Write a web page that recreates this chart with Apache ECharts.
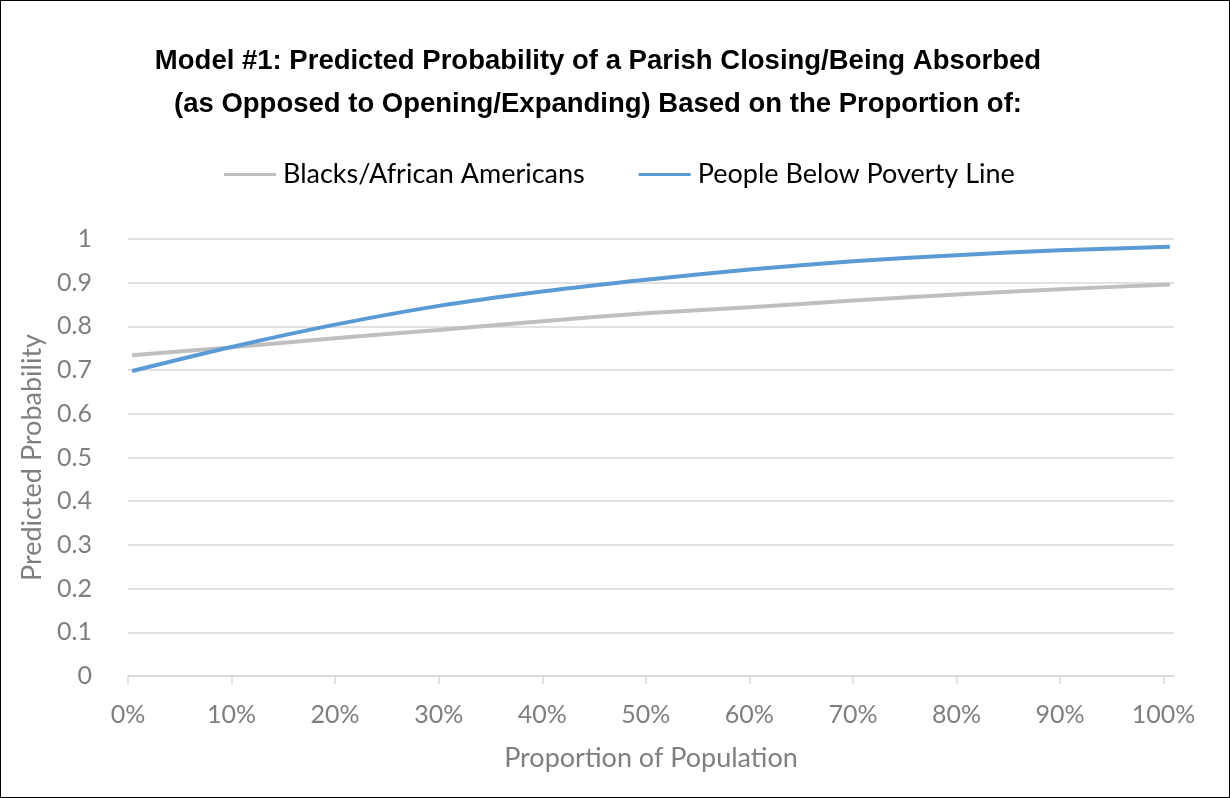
<!DOCTYPE html>
<html>
<head>
<meta charset="utf-8">
<script src="https://cdn.jsdelivr.net/npm/echarts@6/dist/echarts.min.js"></script>
<style>
html,body{margin:0;padding:0;background:#fff;}
#wrap{position:absolute;left:0;top:0;width:1228px;height:796px;border:1px solid #000;}
#chart{width:1228px;height:796px;}
</style>
</head>
<body>
<div id="wrap"><div id="chart"></div></div>
<script>
const titleLines = ['Model #1: Predicted Probability of a Parish Closing/Being Absorbed', '(as Opposed to Opening/Expanding) Based on the Proportion of:'];
const seriesNames = ['Blacks/African Americans', 'People Below Poverty Line'];
const xValues = [0.004, 0.1, 0.2, 0.3, 0.4, 0.5, 0.6, 0.7, 0.8, 0.9, 1.006];
const blacks  = [0.734, 0.752, 0.773, 0.792, 0.812, 0.830, 0.844, 0.859, 0.873, 0.885, 0.896];
const poverty = [0.698, 0.753, 0.804, 0.847, 0.880, 0.907, 0.930, 0.949, 0.963, 0.974, 0.982];
const xAxisName = 'Proportion of Population';
const yAxisName = 'Predicted Probability';

const font = 'Lato, "Liberation Sans", sans-serif';
const chart = echarts.init(document.getElementById('chart'), null, {renderer: 'canvas'});
chart.setOption({
  animation: false,
  title: {
    text: titleLines.join('\n'),
    left: 592, top: 34, textAlign: 'center',
    textStyle: {fontFamily: '"Liberation Sans Narrow", "Liberation Sans", sans-serif', fontWeight: 'bold', fontSize: 27.5, lineHeight: 43, color: '#000'}
  },
  legend: {
    top: 155, left: 218,
    itemWidth: 52, itemHeight: 3, itemGap: 54,
    icon: 'rect',
    textStyle: {fontFamily: font, fontSize: 27, color: '#000', padding: [0,0,0,2]},
    data: seriesNames
  },
  grid: {left: 127, right: 55, top: 238, bottom: 121, containLabel: false},
  xAxis: {
    type: 'value', min: 0, max: 1.01, interval: 0.1,
    name: xAxisName, nameLocation: 'middle', nameGap: 69,
    nameTextStyle: {fontFamily: font, fontSize: 27, color: '#7f7f7f'},
    axisLine: {show: true, lineStyle: {color: '#d9d9d9', width: 1.5}},
    axisTick: {show: true, length: 8, lineStyle: {color: '#d9d9d9', width: 1.5}},
    splitLine: {show: false},
    axisLabel: {
      fontFamily: font, fontSize: 25, color: '#7f7f7f', margin: 26, showMaxLabel: false,
      formatter: v => Math.round(v * 100) + '%'
    }
  },
  yAxis: {
    type: 'value', min: 0, max: 1, interval: 0.1,
    name: yAxisName, nameLocation: 'middle', nameGap: 76,
    nameTextStyle: {fontFamily: font, fontSize: 27, color: '#7f7f7f'},
    axisLine: {show: false}, axisTick: {show: false},
    splitLine: {lineStyle: {color: '#d9d9d9', width: 1.5}},
    axisLabel: {fontFamily: font, fontSize: 25, color: '#7f7f7f', margin: 36,
      formatter: v => String(Math.round(v * 10) / 10)}
  },
  series: [
    {name: seriesNames[0], type: 'line', smooth: 0.3, symbol: 'none',
     lineStyle: {color: '#bfbfbf', width: 4}, itemStyle: {color: '#bfbfbf'},
     data: xValues.map((x, i) => [x, blacks[i]])},
    {name: seriesNames[1], type: 'line', smooth: 0.3, symbol: 'none',
     lineStyle: {color: '#5b9bd5', width: 4}, itemStyle: {color: '#5b9bd5'},
     data: xValues.map((x, i) => [x, poverty[i]])}
  ]
});
</script>
</body>
</html>
